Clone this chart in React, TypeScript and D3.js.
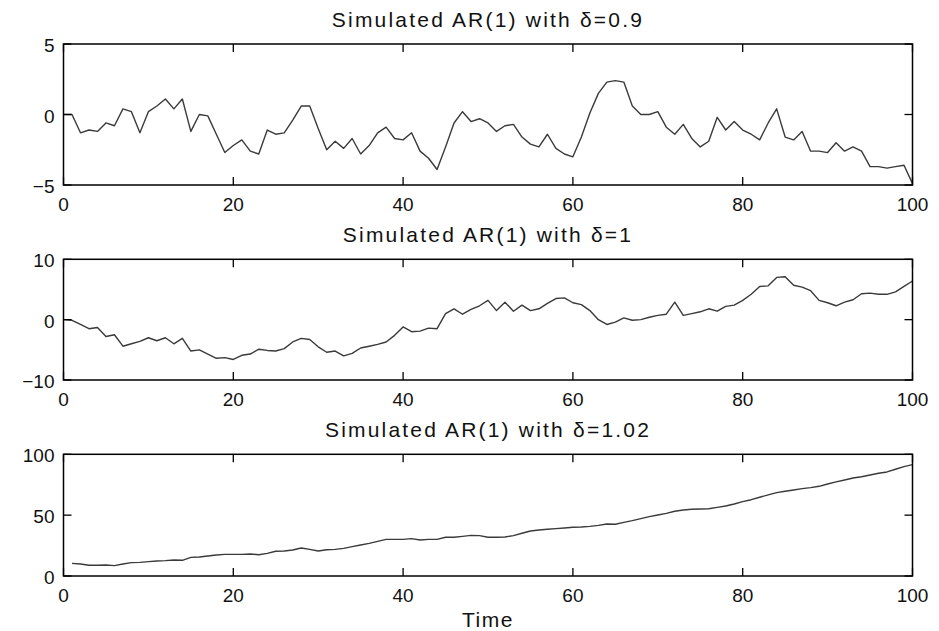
import React from 'react';
import * as d3 from 'd3';

// simulated AR(1) paths (t = 0..100)
const ar09 = [
  0, 0, -1.3, -1.1, -1.2, -0.6, -0.8, 0.4, 0.2, -1.3,
  0.2, 0.6, 1.1, 0.4, 1.1, -1.2, 0, -0.1, -1.4, -2.7,
  -2.2, -1.8, -2.6, -2.8, -1.1, -1.4, -1.3, -0.4, 0.6, 0.6,
  -1.0, -2.5, -1.9, -2.4, -1.7, -2.8, -2.2, -1.3, -0.9, -1.7,
  -1.8, -1.3, -2.6, -3.1, -3.9, -2.3, -0.6, 0.2, -0.5, -0.3,
  -0.6, -1.2, -0.8, -0.7, -1.6, -2.1, -2.3, -1.4, -2.4, -2.8,
  -3.0, -1.6, 0.1, 1.5, 2.3, 2.4, 2.3, 0.6, 0.0, 0.0,
  0.2, -0.9, -1.4, -0.7, -1.7, -2.3, -1.9, -0.2, -1.1, -0.5,
  -1.1, -1.4, -1.8, -0.6, 0.4, -1.6, -1.8, -1.2, -2.6, -2.6,
  -2.7, -2.0, -2.6, -2.3, -2.6, -3.7, -3.7, -3.8, -3.7, -3.6,
  -4.9,
];

const ar1 = [
  0, -0.1, -0.8, -1.5, -1.3, -2.8, -2.5, -4.4, -4.0, -3.6,
  -3.0, -3.5, -3.0, -4.0, -3.1, -5.2, -5.0, -5.7, -6.4, -6.3,
  -6.6, -5.9, -5.7, -4.9, -5.1, -5.2, -4.8, -3.7, -3.1, -3.3,
  -4.5, -5.4, -5.2, -6.0, -5.6, -4.7, -4.4, -4.1, -3.7, -2.6,
  -1.2, -2.0, -1.9, -1.4, -1.5, 1.0, 1.8, 0.9, 1.7, 2.3,
  3.2, 1.5, 2.9, 1.4, 2.4, 1.5, 1.8, 2.7, 3.5, 3.6,
  2.8, 2.5, 1.5, 0, -0.8, -0.4, 0.3, -0.1, 0, 0.4,
  0.7, 0.9, 2.9, 0.7, 1.0, 1.3, 1.8, 1.4, 2.2, 2.4,
  3.2, 4.2, 5.5, 5.6, 7.0, 7.1, 5.7, 5.4, 4.8, 3.2,
  2.8, 2.3, 2.9, 3.3, 4.3, 4.4, 4.2, 4.2, 4.6, 5.5,
  6.4,
];

// this one starts at t = 1
const ar102 = [
  10.4, 9.9, 8.8, 8.8, 9.0, 8.5, 9.9, 11.0, 11.2,
  11.8, 12.3, 12.6, 13.2, 12.9, 15.3, 15.6, 16.4, 17.3, 17.8,
  17.8, 17.8, 18.1, 17.5, 18.6, 20.3, 20.5, 21.4, 23.0, 21.9,
  20.5, 21.6, 21.9, 22.7, 24.1, 25.5, 26.8, 28.5, 30.1, 30.1,
  30.1, 30.7, 29.6, 30.1, 30.1, 31.8, 31.8, 32.6, 33.4, 33.2,
  31.8, 31.8, 32.1, 33.2, 35.1, 37.0, 37.8, 38.4, 38.9, 39.5,
  40.0, 40.3, 40.8, 41.6, 42.7, 42.5, 44.1, 45.5, 47.1, 48.8,
  50.1, 51.5, 53.2, 54.2, 54.8, 55.1, 55.3, 56.4, 57.5, 59.2,
  61.1, 62.7, 64.7, 66.6, 68.5, 69.6, 70.7, 71.8, 72.6, 73.7,
  75.6, 77.3, 78.9, 80.5, 81.6, 83.0, 84.4, 85.5, 87.7, 89.9,
  91.5,
];

const titles = [
  'Simulated AR(1) with δ=0.9',
  'Simulated AR(1) with δ=1',
  'Simulated AR(1) with δ=1.02',
];
const xTicks = [0, 20, 40, 60, 80, 100];
const yTicks09 = [-5, 0, 5];
const yTicks1 = [-10, 0, 10];
const yTicks102 = [0, 50, 100];

const W = 939;
const H = 631;
const left = 63.5;
const right = 912.5;
const font = '"Liberation Sans", Arial, Helvetica, sans-serif';
const tickLen = 8;

const fmt = (v) => (v < 0 ? '\u2212' + Math.abs(v) : String(v));

const Panel = ({ values, start, yTicks, title, top, bottom }) => {
  const x = d3.scaleLinear().domain([0, 100]).range([left, right]);
  const y = d3
    .scaleLinear()
    .domain([yTicks[0], yTicks[yTicks.length - 1]])
    .range([bottom, top]);
  const line = d3
    .line()
    .x((d, i) => x(start + i))
    .y((d) => y(d));

  return (
    <g>
      <text
        x={(left + right) / 2}
        y={top - 17}
        textAnchor="middle"
        fontSize={21}
        letterSpacing={2.2}
        fill="#111"
      >
        {title}
      </text>
      <path d={line(values)} fill="none" stroke="#3a3a3a" strokeWidth={1.4} strokeLinejoin="round" />
      <rect x={left} y={top} width={right - left} height={bottom - top} fill="none" stroke="#000" strokeWidth={1.5} />
      {xTicks.map((t) => (
        <g key={'x' + t}>
          <line x1={x(t)} x2={x(t)} y1={bottom} y2={bottom - tickLen} stroke="#000" strokeWidth={1.3} />
          <line x1={x(t)} x2={x(t)} y1={top} y2={top + tickLen} stroke="#000" strokeWidth={1.3} />
          <text x={x(t)} y={bottom + 26} textAnchor="middle" fontSize={19} fill="#111">
            {t}
          </text>
        </g>
      ))}
      {yTicks.map((t) => (
        <g key={'y' + t}>
          <line x1={left} x2={left + tickLen} y1={y(t)} y2={y(t)} stroke="#000" strokeWidth={1.3} />
          <line x1={right} x2={right - tickLen} y1={y(t)} y2={y(t)} stroke="#000" strokeWidth={1.3} />
          <text x={left - 9} y={y(t) + 8} textAnchor="end" fontSize={19} fill="#111">
            {fmt(t)}
          </text>
        </g>
      ))}
    </g>
  );
};

export default function App() {
  return (
    <div style={{ position: 'absolute', left: 0, top: 0 }}>
      <svg width={W} height={H} style={{ display: 'block', background: '#fff', fontFamily: font }}>
        <Panel values={ar09} start={0} yTicks={yTicks09} title={titles[0]} top={44} bottom={185} />
        <Panel values={ar1} start={0} yTicks={yTicks1} title={titles[1]} top={259.3} bottom={380} />
        <Panel values={ar102} start={1} yTicks={yTicks102} title={titles[2]} top={454.3} bottom={576} />
        <text x={(left + right) / 2} y={627} textAnchor="middle" fontSize={21} letterSpacing={1.5} fill="#111">
          Time
        </text>
      </svg>
    </div>
  );
}
